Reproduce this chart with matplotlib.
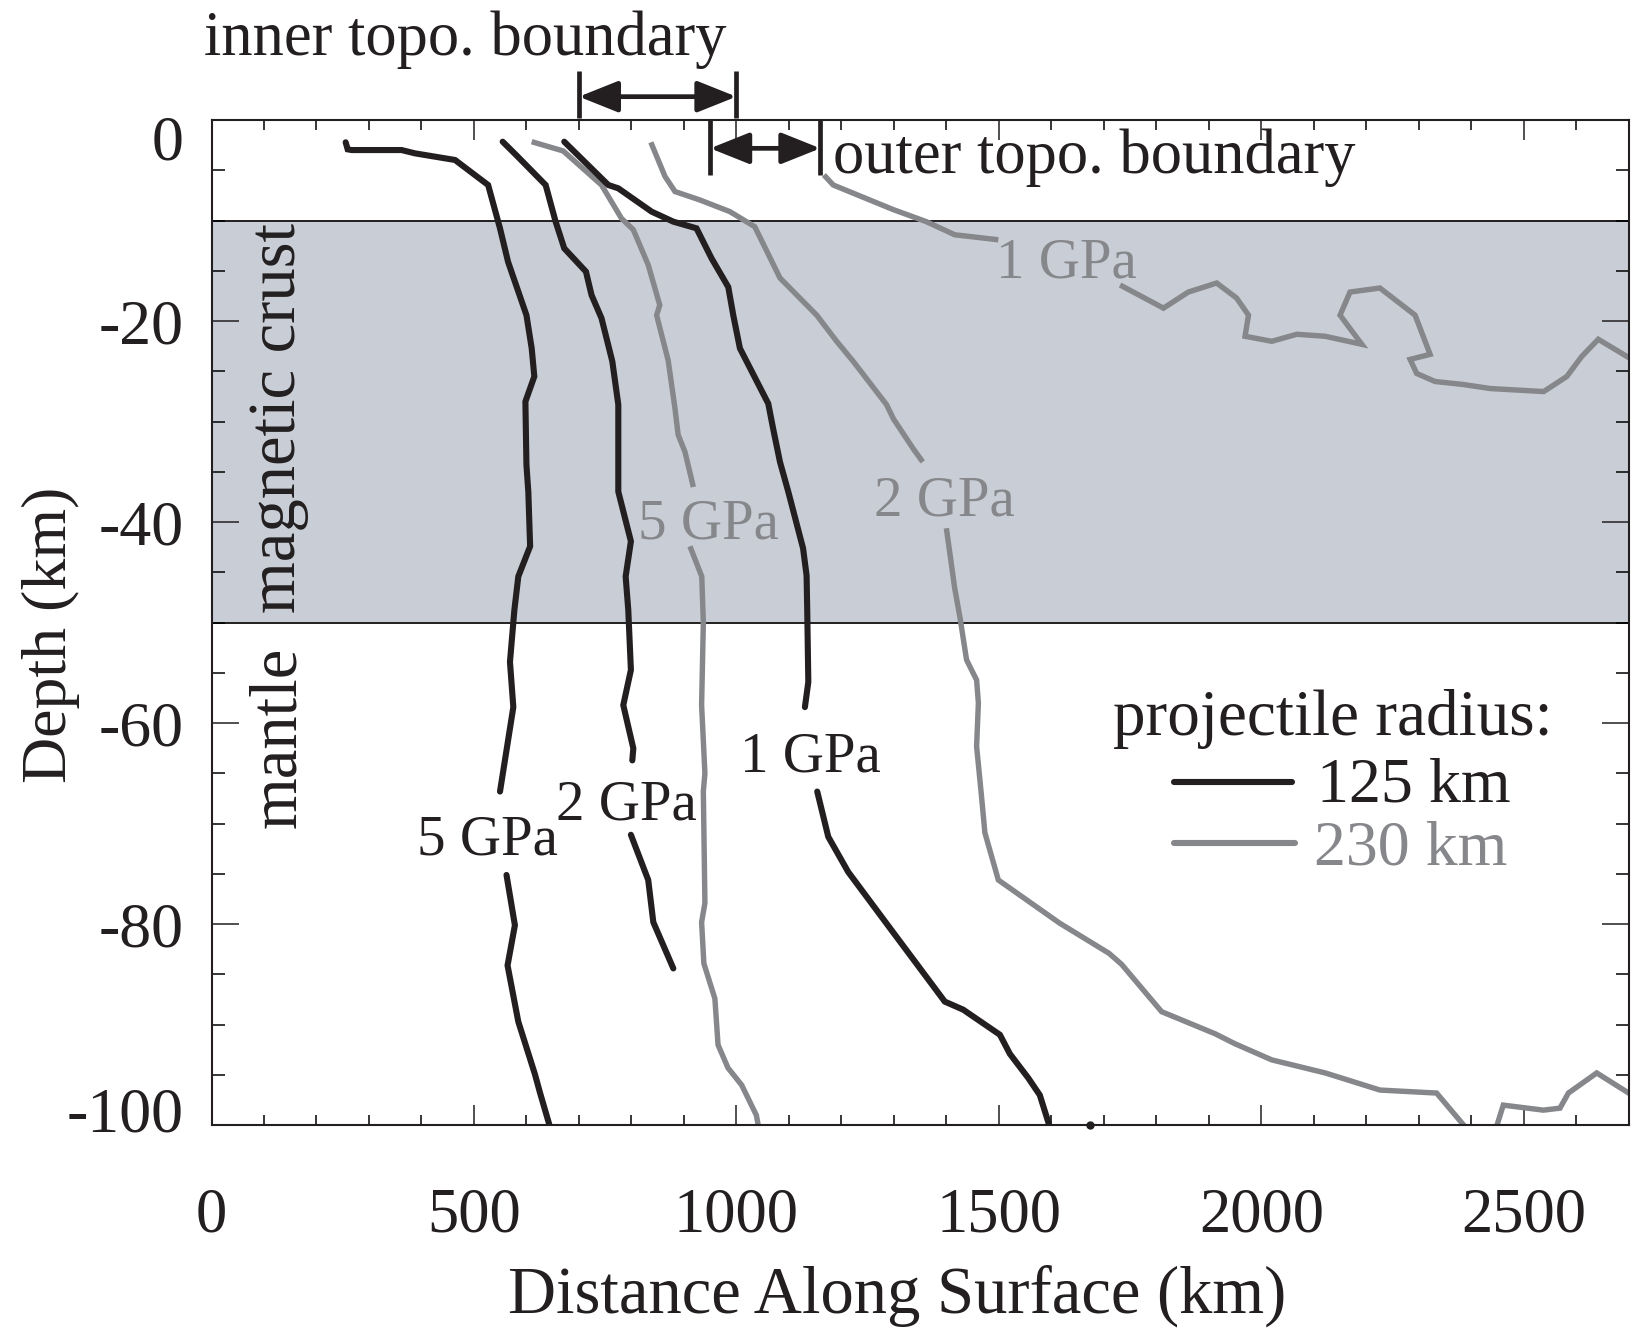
import numpy as np
import matplotlib
matplotlib.use("Agg")
import matplotlib.pyplot as plt
import matplotlib.transforms as mtransforms
from matplotlib.ticker import MultipleLocator

plt.rcParams['font.family'] = ['Liberation Serif', 'DejaVu Serif']
plt.rcParams['axes.unicode_minus'] = False

nan = np.nan

# ---- data: pressure contours (distance km, depth km); nan splits segments around labels
# projectile radius 125 km
r125_5gpa_x = [255.6, 259.4, 267, 362, 387.7, 464, 527, 549.6, 565, 600, 610, 615, 598, 600, 603.6, 607, 584.5,
               577, 568.6, 575, 549.6, nan, 562, 578, 564, 584.5, 616, 626, 645]
r125_5gpa_y = [-2.2, -2.9, -2.97, -2.97, -3.3, -3.96, -6.45, -10.76, -14.1, -19.4, -22.7, -25.5, -28.0, -34.3, -37.0,
               -42.4, -45.4, -48.74, -53.9, -58.4, -66.8, nan, -75.1, -80.1, -84.1, -89.7, -94.9, -96.8, -100.2]

r125_2gpa_x = [554.7, 581, 636.6, 655.6, 672, 713.4, 724, 743, 763.6, 775, 775, 799, 789, 794, 799, 784.5, 803.6,
               801.7, nan, 799, 832, 841.7, 879.8]
r125_2gpa_y = [-2.14, -3.5, -6.45, -10.1, -12.75, -15.07, -17.4, -19.7, -24.0, -28.3, -36.96, -41.9, -45.4, -48.74,
               -54.7, -58.2, -62.5, -63.7, nan, -71.1, -75.6, -79.8, -84.4]

r125_1gpa_x = [672, 756, 775, 838.5, 880, 924, 952.7, 984.5, 994, 1006.7, 1060.7, 1070, 1083, 1099, 1127, 1133.7,
               1135, 1137, 1130.5, nan, 1154, 1175, 1213, 1295.6, 1397, 1432, 1502, 1521, 1556, 1578, 1596]
r125_1gpa_y = [-2.14, -6.45, -6.78, -9.1, -10.1, -10.76, -13.75, -16.6, -19.4, -22.7, -28.2, -30.7, -34.0, -37.0,
               -42.6, -45.3, -49.0, -55.9, -58.4, nan, -66.8, -71.3, -74.8, -80.6, -87.7, -88.5, -91.0, -92.9,
               -95.3, -97.0, -100]
r125_stray_x = [1673]
r125_stray_y = [-100]

# projectile radius 230 km
r230_5gpa_x = [610, 670, 743, 781, 803.6, 832, 854, 848, 870, 883, 889, 902, 918, nan, 911.5, 934, 937, 933.7,
               940, 937, 940, 933.7, 938, 959, 965, 984, 1010, 1038, 1041.6]
r230_5gpa_y = [-2.14, -3.06, -6.45, -9.77, -10.9, -14.4, -18.4, -19.4, -23.9, -28.7, -31.3, -33.0, -36.5, nan,
               -42.4, -45.4, -50, -58.2, -65, -66.8, -77.9, -79.8, -83.9, -87.4, -92.0, -94.3, -96.0, -99.0, -100]

r230_2gpa_x = [837, 864, 883, 930.5, 987.7, 1035, 1083, 1153, 1191, 1222.6, 1286, 1299, 1337, 1355, nan, 1400,
               1416, 1426, 1438.5, 1457.6, 1461, 1457.6, 1467, 1473.4, 1499, 1616, 1710, 1734, 1810, 1912, 1950,
               2020, 2122, 2226, 2334, 2410, 2440, 2461, 2537.5, 2569, 2585, 2639, 2706]
r230_2gpa_y = [-2.2, -5.6, -7.1, -7.94, -9.1, -10.6, -15.7, -19.4, -22.0, -24.0, -28.3, -29.7, -32.7, -34.0, nan,
               -40.6, -46.6, -49.5, -53.7, -55.7, -58.0, -62.3, -67.3, -70.9, -75.6, -79.9, -82.9, -84.0, -88.7,
               -90.9, -91.9, -93.5, -94.8, -96.5, -96.8, -101.5, -101.5, -98, -98.5, -98.3, -96.8, -94.8, -97.0]

r230_1gpa_x = [1166.7, 1184.5, 1299, 1362, 1416, 1499, nan, 1731, 1813.6, 1861, 1915, 1953, 1975.6, 1969, 2020,
               2067.6, 2121.6, 2191.5, 2150, 2169, 2226, 2293, 2321.6, 2283.5, 2296, 2331, 2385, 2436, 2538, 2582,
               2610.6, 2642, 2702.6]
r230_1gpa_y = [-5.45, -6.45, -8.9, -10.1, -11.4, -11.9, nan, -16.4, -18.7, -17.1, -16.2, -17.7, -19.4, -21.5,
               -22.0, -21.3, -21.5, -22.3, -19.4, -17.1, -16.7, -19.4, -23.3, -23.8, -25.2, -26.0, -26.3, -26.7,
               -27.0, -25.5, -23.5, -21.8, -23.7]

crust_top = -10
crust_bottom = -50
inner_boundary = [700, 1000]
outer_boundary = [950, 1160]

x_ticks = [0, 500, 1000, 1500, 2000, 2500]
y_ticks = [0, -20, -40, -60, -80, -100]

# ---- styles
BLACK = '#231f20'
GRAY = '#86878b'
CRUST = '#c9cdd5'
FS = 45

fig = plt.figure(figsize=(16.32, 13.31), dpi=100)
ax = fig.add_axes([0.1296, 0.1546, 0.8684, 0.7551])
ax.set_xlim(0, 2700)
ax.set_ylim(-100, 0)

ax.axhspan(crust_bottom, crust_top, color=CRUST, lw=0, zorder=0)
ax.axhline(crust_top, color=BLACK, lw=1.4, zorder=1)
ax.axhline(crust_bottom, color=BLACK, lw=1.4, zorder=1)

lkw_b = dict(color=BLACK, lw=4.4, solid_capstyle='round', solid_joinstyle='miter', zorder=3)
lkw_g = dict(color=GRAY, lw=3.9, solid_capstyle='butt', solid_joinstyle='miter', zorder=2)
for xs, ys in [(r230_5gpa_x, r230_5gpa_y), (r230_2gpa_x, r230_2gpa_y), (r230_1gpa_x, r230_1gpa_y)]:
    ax.plot(xs, ys, **lkw_g)
for xs, ys in [(r125_5gpa_x, r125_5gpa_y), (r125_2gpa_x, r125_2gpa_y), (r125_1gpa_x, r125_1gpa_y)]:
    ax.plot(xs, ys, **lkw_b)
ax.plot(r125_stray_x, r125_stray_y, 'o', color=BLACK, ms=5, clip_on=False, zorder=3)

# contour labels
tkw = dict(fontsize=41, ha='center', va='baseline', zorder=4)
ax.text(526, -73.1, '5 GPa', color=BLACK, **tkw)
ax.text(791, -69.6, '2 GPa', color=BLACK, **tkw)
ax.text(1141, -64.8, '1 GPa', color=BLACK, **tkw)
ax.text(947, -41.6, '5 GPa', color=GRAY, **tkw)
ax.text(1397, -39.3, '2 GPa', color=GRAY, **tkw)
ax.text(1629, -15.7, '1 GPa', color=GRAY, **tkw)

# layer names
ax.text(159, -29.6, 'magnetic crust', rotation=90, rotation_mode='anchor', ha='center', va='baseline',
        fontsize=48, color=BLACK, zorder=4)
ax.text(159, -61.4, 'mantle', rotation=90, rotation_mode='anchor', ha='center', va='baseline',
        fontsize=48, color=BLACK, zorder=4)

# legend (drawn manually)
ax.text(2137, -61.2, 'projectile radius:', fontsize=47, ha='center', va='baseline', color=BLACK)
ax.plot([1833, 2058], [-65.8, -65.8], color=BLACK, lw=4.4, solid_capstyle='round')
ax.plot([1833, 2064], [-71.95, -71.95], color=GRAY, lw=4.4, solid_capstyle='round')
ax.text(2106, -67.8, '125 km', fontsize=46, ha='left', va='baseline', color=BLACK)
ax.text(2100, -74.1, '230 km', fontsize=46, ha='left', va='baseline', color=GRAY)

# topography boundary brackets
for xb in inner_boundary:
    ax.plot([xb, xb], [0.22, 4.9], color=BLACK, lw=3.4, clip_on=False, solid_capstyle='butt')
for xb in outer_boundary:
    ax.plot([xb, xb], [0.0, -5.45], color=BLACK, lw=3.4, clip_on=False, solid_capstyle='butt')
akw = dict(arrowstyle='<|-|>,head_length=0.8,head_width=0.32', lw=3.4, color=BLACK,
           shrinkA=0, shrinkB=0, mutation_scale=30)
ax.annotate('', xy=(inner_boundary[1], 2.34), xytext=(inner_boundary[0], 2.34), arrowprops=akw,
            annotation_clip=False)
ax.annotate('', xy=(outer_boundary[1], -2.8), xytext=(outer_boundary[0], -2.8), arrowprops=akw,
            annotation_clip=False)
ax.text(483, 6.49, 'inner topo. boundary', fontsize=FS, ha='center', va='baseline', color=BLACK, clip_on=False)
ax.text(1184, -5.3, 'outer topo. boundary', fontsize=FS, ha='left', va='baseline', color=BLACK, zorder=4)

# axes, ticks
ax.set_xticks(x_ticks)
ax.set_yticks(y_ticks)
ax.xaxis.set_minor_locator(MultipleLocator(100))
ax.yaxis.set_minor_locator(MultipleLocator(5))
ax.set_xticklabels([str(v) for v in x_ticks])
ylabels = ax.set_yticklabels([str(v) for v in y_ticks])
ax.tick_params(axis='x', which='major', direction='in', length=14.4, width=1.1, top=True, bottom=True,
               pad=45, labelsize=FS, colors=BLACK)
ax.tick_params(axis='x', which='minor', direction='in', length=7.2, width=1.1, top=True, bottom=True)
ax.tick_params(axis='y', which='major', direction='in', length=19.4, width=1.1, left=True, right=True,
               pad=20, labelsize=46, colors=BLACK)
ax.tick_params(axis='y', which='minor', direction='in', length=9.4, width=1.1, left=True, right=True)
# end labels nudged inward, as in the original
ylabels[0].set_transform(ylabels[0].get_transform() +
                         mtransforms.ScaledTranslation(0, -0.17, fig.dpi_scale_trans))
ylabels[-1].set_transform(ylabels[-1].get_transform() +
                          mtransforms.ScaledTranslation(0, 0.16, fig.dpi_scale_trans))
for s in ax.spines.values():
    s.set_linewidth(1.5)
    s.set_color(BLACK)
    s.set_zorder(5)

ax.set_xlabel('Distance Along Surface (km)', fontsize=48, color=BLACK)
ax.xaxis.set_label_coords(0.4837, -0.139)
ax.set_ylabel('Depth (km)', fontsize=46, color=BLACK)
ax.yaxis.set_label_coords(-0.093, 0.488)

fig.savefig('out.png', dpi=100)
